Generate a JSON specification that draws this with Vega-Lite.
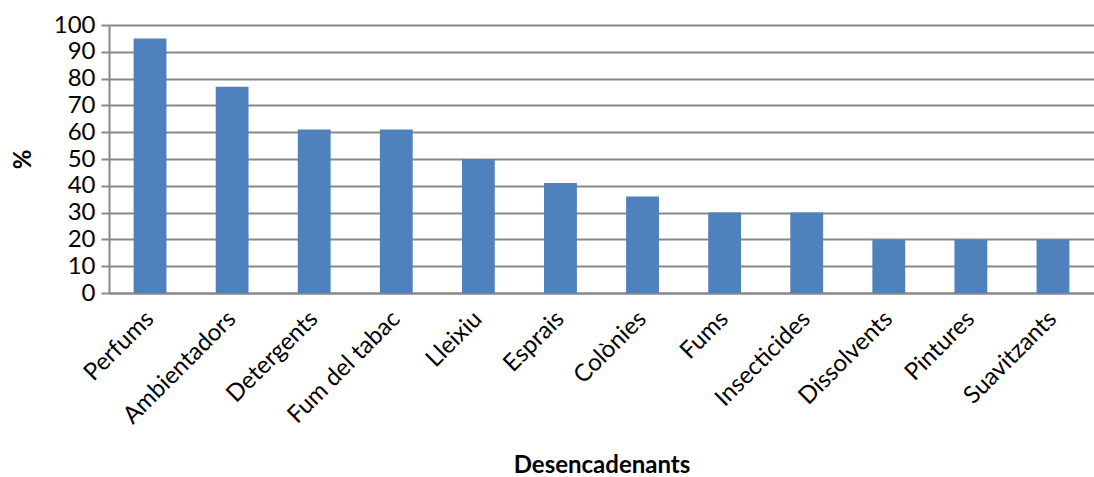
{
  "$schema": "https://vega.github.io/schema/vega-lite/v6.json",
  "width": 985,
  "height": 268,
  "autosize": "none",
  "padding": {"left": 109, "top": 25, "right": 0, "bottom": 184},
  "background": "white",
  "config": {
    "view": {"stroke": null},
    "font": "Lato",
    "axis": {"labelFont": "Lato", "titleFont": "Lato"}
  },
  "data": {
    "values": [
      {"cat": "Perfums", "v": 95},
      {"cat": "Ambientadors", "v": 77},
      {"cat": "Detergents", "v": 61},
      {"cat": "Fum del tabac", "v": 61},
      {"cat": "Lleixiu", "v": 50},
      {"cat": "Esprais", "v": 41},
      {"cat": "Colònies", "v": 36},
      {"cat": "Fums", "v": 30},
      {"cat": "Insecticides", "v": 30},
      {"cat": "Dissolvents", "v": 20},
      {"cat": "Pintures", "v": 20},
      {"cat": "Suavitzants", "v": 20}
    ]
  },
  "mark": {"type": "bar", "color": "#4F81BD"},
  "encoding": {
    "x": {
      "field": "cat",
      "type": "nominal",
      "sort": null,
      "scale": {"paddingInner": 0.6, "paddingOuter": 0.3},
      "axis": {
        "title": "Desencadenants",
        "titleFontSize": 24,
        "titleFontWeight": "bold",
        "titleColor": "#000",
        "titlePadding": 26,
        "labelAngle": -45,
        "labelAlign": "right",
        "labelBaseline": "middle",
        "labelFontSize": 24,
        "labelColor": "#000",
        "labelPadding": 22,
        "ticks": false,
        "domainColor": "#888",
        "domainWidth": 2,
        "grid": false
      }
    },
    "y": {
      "field": "v",
      "type": "quantitative",
      "scale": {"domain": [0, 100], "nice": false},
      "axis": {
        "title": "%",
        "titleFontSize": 24,
        "titleFontWeight": "bold",
        "titleColor": "#000",
        "titlePadding": 18,
        "values": [0, 10, 20, 30, 40, 50, 60, 70, 80, 90, 100],
        "labelFontSize": 24,
        "labelColor": "#000",
        "labelPadding": 6,
        "tickSize": 8,
        "tickColor": "#888",
        "tickWidth": 2,
        "domainColor": "#888",
        "domainWidth": 2,
        "gridColor": "#888",
        "gridWidth": 2,
        "gridOpacity": 1
      }
    }
  }
}
